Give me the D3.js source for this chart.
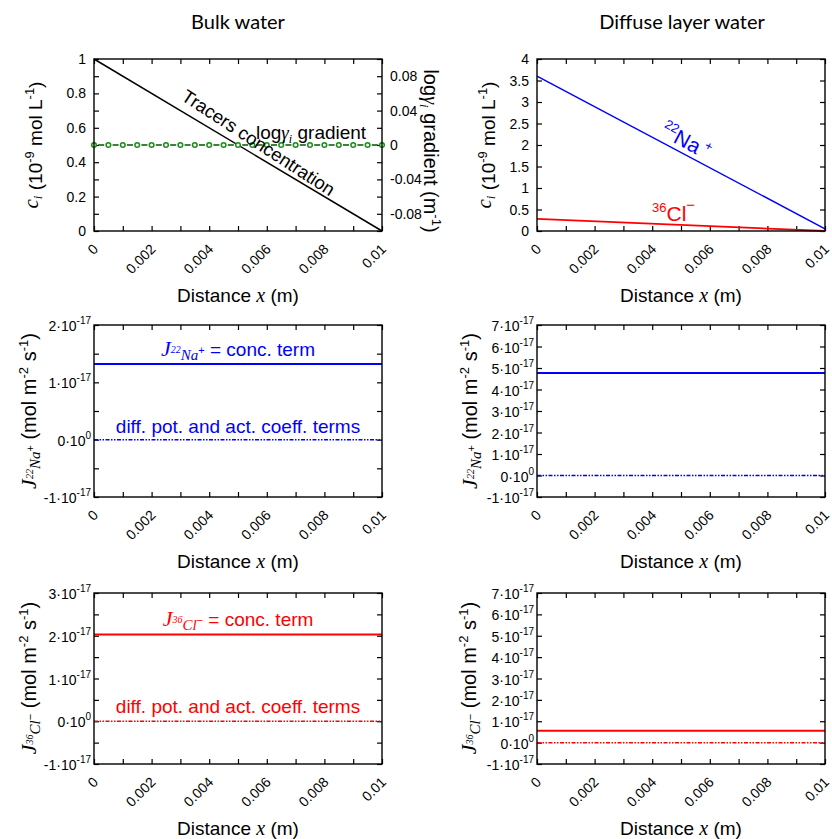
<!DOCTYPE html>
<html><head><meta charset="utf-8">
<script src="https://cdn.jsdelivr.net/npm/d3@7"></script>
<style>body{margin:0;background:#fff}</style>
</head><body><svg id="c" width="832" height="839" font-family='"Liberation Sans",Arial,sans-serif'></svg>
<script>
// ---------- data ----------
const xTicks = [0,0.001,0.002,0.003,0.004,0.005,0.006,0.007,0.008,0.009,0.01];
const xLabelVals = [0,0.002,0.004,0.006,0.008,0.01];
const xLabelText = ["0","0.002","0.004","0.006","0.008","0.01"];

// Bulk water: tracer concentration (1e-9 mol/L)
const bulkX = [0, 0.01];
const bulkConc = [1.0, 0.0];
const concTicks = [0,0.1,0.2,0.3,0.4,0.5,0.6,0.7,0.8,0.9,1.0];
const concLabels = [0,0.2,0.4,0.6,0.8,1];
// log gamma gradient (m^-1)
const gammaX = [0,0.0005,0.001,0.0015,0.002,0.0025,0.003,0.0035,0.004,0.0045,0.005,0.0055,0.006,0.0065,0.007,0.0075,0.008,0.0085,0.009,0.0095,0.01];
const gammaGrad = [0,0,0,0,0,0,0,0,0,0,0,0,0,0,0,0,0,0,0,0,0];
const gradLabels = [-0.08,-0.04,0,0.04,0.08];

// Diffuse layer: concentrations (1e-9 mol/L)
const diffX = [0, 0.01];
const naConc = [3.6, 0.05];
const clConc = [0.28, 0.0];
const diffConcTicks = [0,0.5,1,1.5,2,2.5,3,3.5,4];

// Fluxes (mol m^-2 s^-1)
const fluxX = [0, 0.01];
const bulkNaTotal = [1.32e-17, 1.32e-17];
const bulkNaOther = [0, 0];
const diffNaTotal = [4.77e-17, 4.77e-17];
const diffNaOther = [0, 0];
const bulkClTotal = [2.03e-17, 2.03e-17];
const bulkClOther = [0, 0];
const diffClTotal = [0.55e-17, 0.55e-17];
const diffClOther = [0, 0];
const bulkNaTicks = [-1e-17,-0.5e-17,0,0.5e-17,1e-17,1.5e-17,2e-17];
const bulkNaLabels = [-1e-17,0,1e-17,2e-17];
const bulkClTicks = [-1e-17,-0.5e-17,0,0.5e-17,1e-17,1.5e-17,2e-17,2.5e-17,3e-17];
const bulkClLabels = [-1e-17,0,1e-17,2e-17,3e-17];
const diffFluxTicks = [-1e-17,0,1e-17,2e-17,3e-17,4e-17,5e-17,6e-17,7e-17];

// ---------- layout ----------
const svg = d3.select("#c");
const cols = [{x0:94,x1:382},{x0:537,x1:825}];
const rows = [{y0:59,y1:231},{y0:325,y1:497},{y0:593,y1:764}];
const BLUE="#0000ff", RED="#ff0000", GREEN="#129212";
const SERIF='"Liberation Serif","DejaVu Serif",serif';
const TICK = 14;

function rich(sel, parts){
  parts.forEach(p=>{
    const t = sel.append("tspan").text(p.t);
    if(p.sz) t.attr("font-size",p.sz);
    if(p.dy) t.attr("dy",p.dy);
    if(p.it){ t.attr("font-style","italic").attr("font-family",SERIF); }
    if(p.fill) t.attr("fill",p.fill);
  });
  return sel;
}

function panel(c, r, yDom, yTicks){
  const C=cols[c], R=rows[r];
  const x = d3.scaleLinear().domain([0,0.01]).range([C.x0,C.x1]);
  const y = d3.scaleLinear().domain(yDom).range([R.y1,R.y0]);
  const g = svg.append("g");
  const ax = (a, tr, vals) => {
    const gg = g.append("g").attr("transform",tr).call(a.tickValues(vals).tickSize(-5).tickFormat(""));
    gg.select(".domain").remove();
    gg.selectAll("line").attr("stroke","#000").attr("stroke-width",1.2);
  };
  ax(d3.axisBottom(x), `translate(0,${R.y1})`, xTicks);
  ax(d3.axisTop(x), `translate(0,${R.y0})`, xTicks);
  ax(d3.axisLeft(y), `translate(${C.x0},0)`, yTicks);
  ax(d3.axisRight(y), `translate(${C.x1},0)`, yTicks);
  xLabelVals.forEach((v,i)=>{
    g.append("text").attr("text-anchor","end").attr("font-size",TICK)
      .attr("transform",`translate(${x(v)+5},${R.y1+19}) rotate(-45)`).text(xLabelText[i]);
  });
  const xt = g.append("text").attr("text-anchor","middle").attr("font-size",19)
    .attr("x",(C.x0+C.x1)/2).attr("y", R.y1+71);
  rich(xt,[{t:"Distance "},{t:"x",it:1,sz:20},{t:" (m)"}]);
  return {g,x,y,C,R};
}

function frame(p){
  p.g.append("rect").attr("x",p.C.x0).attr("y",p.R.y0).attr("width",p.C.x1-p.C.x0)
    .attr("height",p.R.y1-p.R.y0).attr("fill","none").attr("stroke","#000").attr("stroke-width",1.4);
}

function yLabelsPlain(p, vals, fmt){
  vals.forEach(v=>{
    p.g.append("text").attr("text-anchor","end").attr("font-size",TICK)
      .attr("x",p.C.x0-8).attr("y",p.y(v)+5).text(fmt(v));
  });
}
function yLabelsSci(p, vals){
  vals.forEach(v=>{
    const m = Math.round(v/1e-17);
    const t = p.g.append("text").attr("text-anchor","end").attr("font-size",TICK)
      .attr("x",p.C.x0-3).attr("y",p.y(v)+6);
    rich(t,[{t:`${m}·10`},{t: m===0?"0":"-17", sz:10, dy:-7}]);
  });
}

function drawLine(p, xs, ys, color, w, dash){
  const data = xs.map((d,i)=>[d, ys[i]]);
  const path = p.g.append("path").datum(data).attr("fill","none").attr("stroke",color)
    .attr("stroke-width",w).attr("d", d3.line().x(d=>p.x(d[0])).y(d=>p.y(d[1])));
  if(dash) path.attr("stroke-dasharray",dash);
  return path;
}

function yTitle(xpos, ycen, rot, parts, size){
  const t = svg.append("text").attr("text-anchor","middle").attr("font-size",size||19)
    .attr("transform",`translate(${xpos},${ycen}) rotate(${rot})`);
  rich(t, parts);
}

const unitsConc = [{t:" (10"},{t:"-9",sz:13,dy:-8},{t:" mol L",dy:8},{t:"-1",sz:13,dy:-8},{t:")",dy:8}];
const unitsFlux = [{t:"(mol m"},{t:"-2",sz:13,dy:-8},{t:" s",dy:8},{t:"-1",sz:13,dy:-8},{t:")",dy:8}];

// ---------- titles ----------
svg.append("text").attr("x",238).attr("y",29).attr("text-anchor","middle").attr("font-size",20)
  .attr("font-family","Lato, sans-serif").text("Bulk water");
svg.append("text").attr("x",682).attr("y",29).attr("text-anchor","middle").attr("font-size",20)
  .attr("font-family","Lato, sans-serif").text("Diffuse layer water");

// ---------- Panel 1: bulk concentration ----------
{
  const p = panel(0,0,[0,1],concTicks);
  const yR = d3.scaleLinear().domain([-0.1,0.1]).range([p.R.y1,p.R.y0]);
  yLabelsPlain(p, concLabels, v=>d3.format("")(v));
  gradLabels.forEach(v=>{
    p.g.append("text").attr("font-size",TICK).attr("x",p.C.x1+8).attr("y",yR(v)+5).text(v===0?"0":v.toFixed(2));
  });
  drawLine(p, bulkX, bulkConc, "#000", 1.5);
  const period = p.x(gammaX[1]) - p.x(gammaX[0]);
  const gdata = gammaX.map((d,i)=>[d,gammaGrad[i]]);
  p.g.append("path").datum(gdata).attr("fill","none").attr("stroke","#0d4f0d").attr("stroke-width",1.4)
    .attr("stroke-dasharray",`${period*0.42},${period*0.58}`).attr("stroke-dashoffset",-period*0.29)
    .attr("d", d3.line().x(d=>p.x(d[0])).y(d=>yR(d[1])));
  p.g.selectAll("circle.g").data(gdata).enter().append("circle")
    .attr("cx",d=>p.x(d[0])).attr("cy",d=>yR(d[1])).attr("r",2.3)
    .attr("fill","#fff").attr("stroke",GREEN).attr("stroke-width",1.5);
  frame(p);
  p.g.append("text").attr("text-anchor","middle").attr("font-size",18.5)
    .attr("transform","translate(255,148) rotate(33)").text("Tracers concentration");
  const lg = p.g.append("text").attr("font-size",19).attr("x",256).attr("y",139);
  rich(lg,[{t:"log"},{t:"γ",it:1},{t:"i",it:1,sz:12,dy:4},{t:" gradient",dy:-4}]);
  yTitle(38, 145, -90, [{t:"c",it:1,sz:21},{t:"i",it:1,sz:13,dy:4},{t:"",dy:-4}].concat(unitsConc));
  yTitle(424, 151, 90, [{t:"log"},{t:"γ",it:1},{t:"i",it:1,sz:13,dy:4},{t:" gradient (m",dy:-4},{t:"-1",sz:13,dy:-8},{t:")",dy:8}], 20);
}

// ---------- Panel 2: diffuse concentration ----------
{
  const p = panel(1,0,[0,4],diffConcTicks);
  yLabelsPlain(p, diffConcTicks, v=>d3.format("")(v));
  drawLine(p, diffX, naConc, BLUE, 1.5);
  drawLine(p, diffX, clConc, RED, 1.8);
  frame(p);
  const na = p.g.append("text").attr("fill",BLUE).attr("font-size",21)
    .attr("transform","translate(659.5,135) rotate(28)");
  rich(na,[{t:"22",sz:13,dy:-9},{t:"Na",dy:9},{t:" +",sz:13,dy:-9}]);
  const cl = p.g.append("text").attr("fill",RED).attr("font-size",21).attr("x",652).attr("y",221);
  rich(cl,[{t:"36",sz:13,dy:-9},{t:"Cl",dy:9},{t:"−",sz:15,dy:-11}]);
  yTitle(491, 145, -90, [{t:"c",it:1,sz:21},{t:"i",it:1,sz:13,dy:4},{t:"",dy:-4}].concat(unitsConc));
}

const jNa = (col)=>[{t:"J",it:1,sz:22,fill:col},{t:"22",it:1,sz:10,dy:-3,fill:col},{t:"Na",it:1,sz:15,dy:7,fill:col},{t:"+",sz:11,dy:-6,fill:col}];
const jCl = (col)=>[{t:"J",it:1,sz:22,fill:col},{t:"36",it:1,sz:10,dy:-3,fill:col},{t:"Cl",it:1,sz:15,dy:7,fill:col},{t:"−",sz:11,dy:-6,fill:col}];

// ---------- Panel 3: bulk Na flux ----------
{
  const p = panel(0,1,[-1e-17,2e-17],bulkNaTicks);
  yLabelsSci(p, bulkNaLabels);
  drawLine(p, fluxX, bulkNaTotal, BLUE, 2);
  drawLine(p, fluxX, bulkNaOther, BLUE, 1.5, "4,1.5,1.5,1.5,1.5,1.5");
  frame(p);
  const t1 = p.g.append("text").attr("fill",BLUE).attr("font-size",19).attr("x",238).attr("y",356).attr("text-anchor","middle");
  rich(t1, jNa(BLUE).concat([{t:" = conc. term",dy:2,fill:BLUE}]));
  p.g.append("text").attr("fill",BLUE).attr("font-size",19).attr("x",238).attr("y",433).attr("text-anchor","middle")
    .text("diff. pot. and act. coeff. terms");
  yTitle(36, 411, -90, jNa("#000").concat([{t:"  ",dy:2}]).concat(unitsFlux), 20);
}

// ---------- Panel 4: diffuse Na flux ----------
{
  const p = panel(1,1,[-1e-17,7e-17],diffFluxTicks);
  yLabelsSci(p, diffFluxTicks);
  drawLine(p, fluxX, diffNaTotal, BLUE, 2);
  drawLine(p, fluxX, diffNaOther, BLUE, 1.5, "4,1.5,1.5,1.5,1.5,1.5");
  frame(p);
  yTitle(477, 411, -90, jNa("#000").concat([{t:"  ",dy:2}]).concat(unitsFlux), 20);
}

// ---------- Panel 5: bulk Cl flux ----------
{
  const p = panel(0,2,[-1e-17,3e-17],bulkClTicks);
  yLabelsSci(p, bulkClLabels);
  drawLine(p, fluxX, bulkClTotal, RED, 2);
  drawLine(p, fluxX, bulkClOther, RED, 1.5, "4,1.5,1.5,1.5,1.5,1.5");
  frame(p);
  const t1 = p.g.append("text").attr("fill",RED).attr("font-size",19).attr("x",238).attr("y",626).attr("text-anchor","middle");
  rich(t1, jCl(RED).concat([{t:" = conc. term",dy:2,fill:RED}]));
  p.g.append("text").attr("fill",RED).attr("font-size",19).attr("x",238).attr("y",713).attr("text-anchor","middle")
    .text("diff. pot. and act. coeff. terms");
  yTitle(36, 678, -90, jCl("#000").concat([{t:"  ",dy:2}]).concat(unitsFlux), 20);
}

// ---------- Panel 6: diffuse Cl flux ----------
{
  const p = panel(1,2,[-1e-17,7e-17],diffFluxTicks);
  yLabelsSci(p, diffFluxTicks);
  drawLine(p, fluxX, diffClTotal, RED, 2);
  drawLine(p, fluxX, diffClOther, RED, 1.5, "4,1.5,1.5,1.5,1.5,1.5");
  frame(p);
  yTitle(476, 678, -90, jCl("#000").concat([{t:"  ",dy:2}]).concat(unitsFlux), 20);
}
</script></body></html>
